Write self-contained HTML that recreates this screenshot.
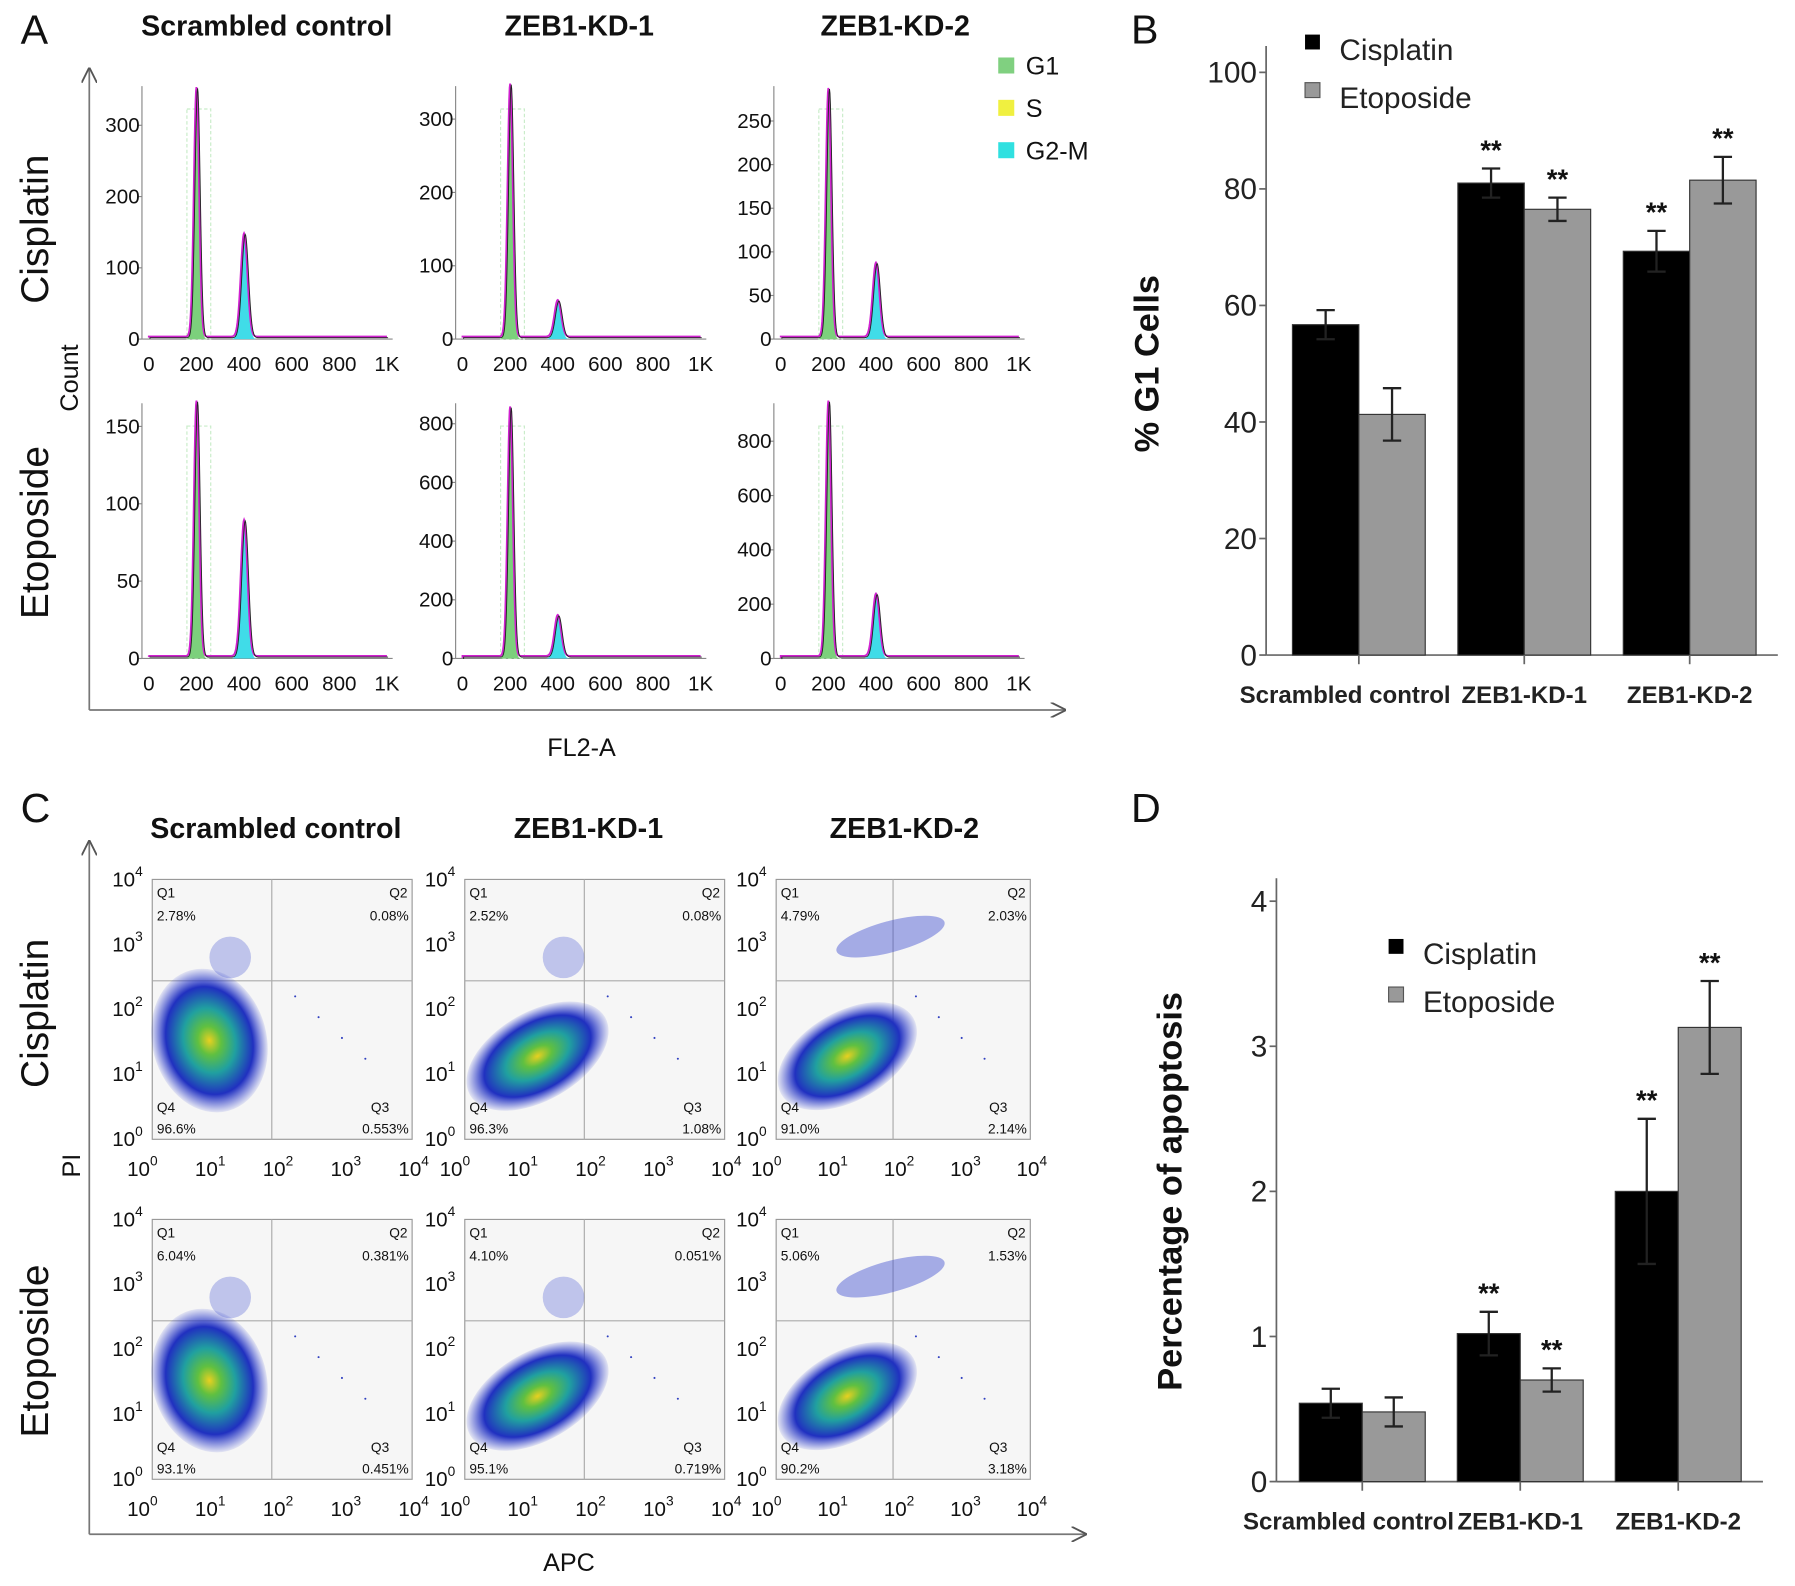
<!DOCTYPE html>
<html><head><meta charset="utf-8"><style>
html,body{margin:0;padding:0;background:#fff}
svg{display:block}
text{font-family:"Liberation Sans","DejaVu Sans",sans-serif}
</style></head><body>
<svg id="fig" width="1795" height="1586" viewBox="0 0 1568 1385" xmlns="http://www.w3.org/2000/svg">
<defs>
<marker id="arr" viewBox="0 0 10 10" refX="9" refY="5" markerWidth="9" markerHeight="9" orient="auto"><path d="M0,0 L10,5 L0,10" fill="none" stroke="#555" stroke-width="1.2"/></marker>
<radialGradient id="dens"><stop offset="0" stop-color="#e8d020"/><stop offset="0.2" stop-color="#60c040"/><stop offset="0.45" stop-color="#20a0a0"/><stop offset="0.75" stop-color="#2030c0"/><stop offset="1" stop-color="#3040d0" stop-opacity="0.1"/></radialGradient>
</defs>
<g id="root"></g>
</svg>
<script>
// ---------- data ----------
const groups = ["Scrambled control","ZEB1-KD-1","ZEB1-KD-2"];
const g1Cis = [56.7, 81.0, 69.3];
const g1CisErr = [2.5, 2.5, 3.5];
const g1Eto = [41.3, 76.5, 81.5];
const g1EtoErr = [4.5, 2.0, 4.0];
const g1Ticks = [0,20,40,60,80,100];
const g1SigCis = ["", "**", "**"];
const g1SigEto = ["", "**", "**"];
const apoCis = [0.54, 1.02, 2.0];
const apoCisErr = [0.1, 0.15, 0.5];
const apoEto = [0.48, 0.70, 3.13];
const apoEtoErr = [0.1, 0.08, 0.32];
const apoTicks = [0,1,2,3,4];
const apoSigCis = ["", "**", "**"];
const apoSigEto = ["", "**", "**"];
const histYTicks = [[0,100,200,300],[0,100,200,300],[0,50,100,150,200,250],[0,50,100,150],[0,200,400,600,800],[0,200,400,600,800]];
const histYMax = [355,345,290,165,870,940];
const histG1 = [350,345,285,165,850,940];
const histG2 = [145,50,85,88,140,230];
const histXTicks = ["0","200","400","600","800","1K"];
const quadQ1 = ["2.78%","2.52%","4.79%","6.04%","4.10%","5.06%"];
const quadQ2 = ["0.08%","0.08%","2.03%","0.381%","0.051%","1.53%"];
const quadQ3 = ["0.553%","1.08%","2.14%","0.451%","0.719%","3.18%"];
const quadQ4 = ["96.6%","96.3%","91.0%","93.1%","95.1%","90.2%"];

const NS="http://www.w3.org/2000/svg";
const root=document.getElementById('root');
function el(tag,attrs,parent,txt){const e=document.createElementNS(NS,tag);for(const k in attrs)e.setAttribute(k,attrs[k]);if(txt!==undefined)e.textContent=txt;(parent||root).appendChild(e);return e;}
function T(x,y,s,size,opts,name){const o=Object.assign({x:x,y:y,'font-size':size,fill:'#111'},opts||{});const t=el('text',o,null,s);


return t;}

[["A",18,38],["B",988,38],["C",18,718],["D",988,718]].forEach(p=>{T(p[1],p[2],p[0],36,{},'panel-letter-'+p[0].toLowerCase());});

// ---------- Panel A ----------
["Scrambled control","ZEB1-KD-1","ZEB1-KD-2"].forEach((s,i)=>T([233,506,782][i],31,s,25,{'text-anchor':'middle','font-weight':'bold'},'hist-column-title'));
T(0,0,"Cisplatin",34,{transform:"translate(42,200) rotate(-90)",'text-anchor':'middle'},'row-title-cisplatin');
T(0,0,"Etoposide",34,{transform:"translate(42,465) rotate(-90)",'text-anchor':'middle'},'row-title-etoposide');
T(0,0,"Count",22,{transform:"translate(68,330) rotate(-90)",'text-anchor':'middle'},'y-axis-title-count');
T(508,660,"FL2-A",22,{'text-anchor':'middle'},'x-axis-title-fl2a');
el('line',{x1:78,y1:620,x2:78,y2:60,stroke:'#777','stroke-width':1.5,'marker-end':'url(#arr)'});
el('line',{x1:78,y1:620,x2:930,y2:620,stroke:'#777','stroke-width':1.5,'marker-end':'url(#arr)'});
[["G1","#80d080",58],["S","#f0f040",95],["G2-M","#30e0e0",132]].forEach(l=>{
  const r=el('rect',{x:872,y:l[2]-8,width:14,height:14,fill:l[1]});
  
  
  T(896,l[2]+7,l[0],22,{},'legend-entry-'+l[0].toLowerCase());
});
const histX0=[130,404,682], histY0=[296,575], histTop=[75,352];
for(let k=0;k<6;k++){
  const c=k%3,r=Math.floor(k/3);
  const x0=histX0[c], y0=histY0[r], w=208, top=histTop[r];
  const g=el('g',{});
  
  
  const xs=v=>x0+v/1000*w;
  const ys=v=>y0-v/histYMax[k]*(y0-top);
  el('line',{x1:x0-6,y1:top,x2:x0-6,y2:y0,stroke:'#888','stroke-width':1},g);
  el('line',{x1:x0-6,y1:y0,x2:x0+w+5,y2:y0,stroke:'#888','stroke-width':1},g);
  histYTicks[k].forEach(t=>{T(x0-8,ys(t)+6,String(t),18,{'text-anchor':'end'},'hist-y-tick');el('line',{x1:x0-10,y1:ys(t),x2:x0-6,y2:ys(t),stroke:'#888'},g);});
  histXTicks.forEach((t,i)=>{T(xs(i*200),y0+28,t,18,{'text-anchor':'middle'},'hist-x-tick');});
  el('rect',{x:xs(160),y:top+20,width:xs(260)-xs(160),height:y0-top-20,fill:'none',stroke:'#c8ecc8','stroke-width':1,'stroke-dasharray':'3,2'},g);
  const g1c=200, g2c=400, sd1=11, sd2=14;
  const gauss=(v,c,s)=>Math.exp(-0.5*((v-c)/s)**2);
  let p1=`M${xs(140)},${y0}`,p2=`M${xs(350)},${y0}`,pl=`M${xs(0)},${ys(2)}`;
  for(let v=140;v<=260;v+=2)p1+=` L${xs(v)},${ys(histG1[k]*gauss(v,g1c,sd1))}`;
  for(let v=350;v<=450;v+=2)p2+=` L${xs(v)},${ys(histG2[k]*gauss(v,g2c,sd2))}`;
  for(let v=0;v<=1000;v+=2)pl+=` L${xs(v)},${ys(histG1[k]*gauss(v,g1c,sd1)+histG2[k]*gauss(v,g2c,sd2)+histYMax[k]*0.01)}`;
  el('path',{d:p1+` L${xs(260)},${y0} Z`,fill:'#7cd07c'},g);
  el('path',{d:p2+` L${xs(450)},${y0} Z`,fill:'#40dce8'},g);
  el('path',{d:pl,fill:'none',stroke:'#d020d0','stroke-width':1.6},g);
  el('path',{d:pl,fill:'none',stroke:'#222','stroke-width':0.8,transform:'translate(1,1)'},g);
}

// ---------- Panel C ----------
["Scrambled control","ZEB1-KD-1","ZEB1-KD-2"].forEach((s,i)=>T([241,514,790][i],732,s,25,{'text-anchor':'middle','font-weight':'bold'},'scatter-column-title'));
T(0,0,"Cisplatin",34,{transform:"translate(42,885) rotate(-90)",'text-anchor':'middle'},'row-title-cisplatin-c');
T(0,0,"Etoposide",34,{transform:"translate(42,1180) rotate(-90)",'text-anchor':'middle'},'row-title-etoposide-c');
T(0,0,"PI",22,{transform:"translate(70,1018) rotate(-90)",'text-anchor':'middle'},'y-axis-title-pi');
T(497,1372,"APC",22,{'text-anchor':'middle'},'x-axis-title-apc');
el('line',{x1:78,y1:1340,x2:78,y2:735,stroke:'#777','stroke-width':1.5,'marker-end':'url(#arr)'});
el('line',{x1:78,y1:1340,x2:948,y2:1340,stroke:'#777','stroke-width':1.5,'marker-end':'url(#arr)'});
const scX0=[133,406,678], scY0=[768,1065];
for(let k=0;k<6;k++){
  const c=k%3,r=Math.floor(k/3);
  const x0=scX0[c], y0=scY0[r], w=c==2?222:227, h=227;
  const g=el('g',{});
  
  
  el('rect',{x:x0,y:y0,width:w,height:h,fill:'#f6f6f6',stroke:'#999'},g);
  const qx=x0+w*0.46, qy=y0+h*0.39;
  el('line',{x1:qx,y1:y0,x2:qx,y2:y0+h,stroke:'#aaa'},g);
  el('line',{x1:x0,y1:qy,x2:x0+w,y2:qy,stroke:'#aaa'},g);
  const cx=x0+w*(c==0?0.22:0.28), cy=y0+h*(c==0?0.62:0.68);
  el('ellipse',{cx:cx,cy:cy,rx:w*(c==0?0.22:0.3),ry:h*(c==0?0.28:0.17),fill:'url(#dens)',transform:`rotate(${c==0?-15:-30} ${cx} ${cy})`},g);
  if(c==2) el('ellipse',{cx:x0+w*0.45,cy:y0+h*0.22,rx:w*0.22,ry:h*0.06,fill:'#4050d0','fill-opacity':0.45,transform:`rotate(-15 ${x0+w*0.45} ${y0+h*0.22})`},g);
  else el('ellipse',{cx:x0+w*(c==0?0.3:0.38),cy:y0+h*0.3,rx:w*0.08,ry:h*0.08,fill:'#4050d0','fill-opacity':0.3},g);
  for(let d=0;d<4;d++){el('circle',{cx:x0+w*(0.55+d*0.09),cy:y0+h*(0.45+d*0.08),r:0.9,fill:'#3040c0'},g);}
  T(x0+4,y0+16,"Q1",12,{},'quadrant-label');T(x0+w-4,y0+16,"Q2",12,{'text-anchor':'end'},'quadrant-label');
  T(x0+4,y0+36,quadQ1[k],12,{},'quadrant-q1-value');T(x0+w-3,y0+36,quadQ2[k],12,{'text-anchor':'end'},'quadrant-q2-value');
  T(x0+4,y0+h-24,"Q4",12,{},'quadrant-label');T(x0+w-20,y0+h-24,"Q3",12,{'text-anchor':'end'},'quadrant-label');
  T(x0+4,y0+h-5,quadQ4[k],12,{},'quadrant-q4-value');T(x0+w-3,y0+h-5,quadQ3[k],12,{'text-anchor':'end'},'quadrant-q3-value');
  for(let i=0;i<=4;i++){
    const ty=y0+h-i*h/4, tx=x0-10+i*(w+10)/4;
    const t1=T(x0-35,ty+6,"10",18,{},'scatter-y-tick');el('tspan',{dy:-9,'font-size':12},t1,String(i));
    const t2=T(tx-12,y0+h+32,"10",18,{},'scatter-x-tick');el('tspan',{dy:-9,'font-size':12},t2,String(i));
  }
}

// ---------- bar charts ----------
function barChart(cfg){
  const {ax,y0,yTop,vmax,ticks,cis,cisE,eto,etoE,sigC,sigE,left,bw,step,xEnd,title,titleX,legX,legY,name}=cfg;
  const g=el('g',{});
  
  
  const ys=v=>y0-v/vmax*(y0-yTop);
  el('line',{x1:ax,y1:y0,x2:ax,y2:cfg.axTop,stroke:'#666','stroke-width':1.5},g);
  el('line',{x1:ax,y1:y0,x2:xEnd,y2:y0,stroke:'#666','stroke-width':1.5},g);
  ticks.forEach(t=>{el('line',{x1:ax-6,y1:ys(t),x2:ax,y2:ys(t),stroke:'#666','stroke-width':1.5},g);T(ax-8,ys(t)+9,String(t),26,{'text-anchor':'end',fill:'#222'},'y-tick-label');});
  groups.forEach((gname,i)=>{
    const x=left+i*step;
    [[cis,cisE,sigC,'#000','cisplatin'],[eto,etoE,sigE,'#999','etoposide']].forEach((s,j)=>{
      const bx=x+j*bw, v=s[0][i], e=s[1][i];
      const r=el('rect',{x:bx,y:ys(v),width:bw,height:y0-ys(v),fill:s[3],stroke:'#333','stroke-width':1},g);
      
      
      const cx=bx+bw/2;
      el('line',{x1:cx,y1:ys(v+e),x2:cx,y2:ys(v-e),stroke:'#222','stroke-width':2},g);
      el('line',{x1:cx-8,y1:ys(v+e),x2:cx+8,y2:ys(v+e),stroke:'#222','stroke-width':2},g);
      el('line',{x1:cx-8,y1:ys(v-e),x2:cx+8,y2:ys(v-e),stroke:'#222','stroke-width':2},g);
      if(s[2][i])T(cx,ys(v+e)-8,s[2][i],24,{'text-anchor':'middle','font-weight':'bold'},'significance-mark');
    });
    el('line',{x1:x+bw,y1:y0,x2:x+bw,y2:y0+8,stroke:'#666','stroke-width':1.5},g);
    T(x+bw+(i==0?-12:0),y0+42,gname,21,{'text-anchor':'middle','font-weight':'bold',fill:'#222'},'x-category-label');
  });
  T(0,0,title,30,{transform:`translate(${titleX},${(y0+yTop)/2}) rotate(-90)`,'text-anchor':'middle','font-weight':'bold'},'y-axis-title');
  const r1=el('rect',{x:legX,y:legY-10,width:13,height:13,fill:'#000'},g);
  
  const r2=el('rect',{x:legX,y:legY+32,width:13,height:13,fill:'#999',stroke:'#555'},g);
  
  T(legX+30,legY+12,"Cisplatin",26,{fill:'#222'},'legend-entry-cisplatin');
  T(legX+30,legY+54,"Etoposide",26,{fill:'#222'},'legend-entry-etoposide');
}
barChart({name:'g1-bar-chart',ax:1106,y0:572,yTop:63,axTop:40,vmax:100,ticks:g1Ticks,cis:g1Cis,cisE:g1CisErr,eto:g1Eto,etoE:g1EtoErr,sigC:g1SigCis,sigE:g1SigEto,left:1129,bw:58,step:144.5,xEnd:1553,title:"% G1 Cells",titleX:1012,legX:1140,legY:40});
barChart({name:'apoptosis-bar-chart',ax:1115,y0:1294,yTop:787,axTop:767,vmax:4,ticks:apoTicks,cis:apoCis,cisE:apoCisErr,eto:apoEto,etoE:apoEtoErr,sigC:apoSigCis,sigE:apoSigEto,left:1135,bw:55,step:138,xEnd:1540,title:"Percentage of apoptosis",titleX:1032,legX:1213,legY:830});
</script>
</body></html>
